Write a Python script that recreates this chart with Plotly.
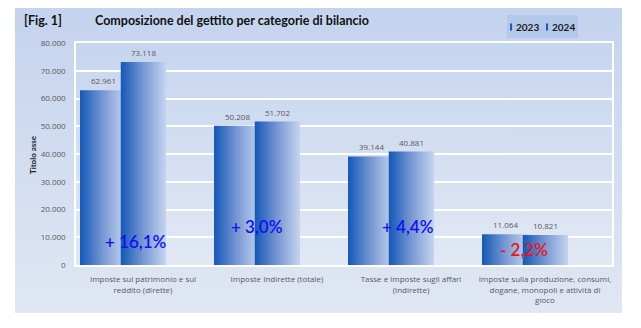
import base64
import plotly.graph_objects as go

# Data (milioni di euro)
categories = [
    "Imposte sul patrimonio e sul<br>reddito (dirette)",
    "Imposte Indirette (totale)",
    "Tasse e imposte sugli affari<br>(indirette)",
    "Imposte sulla produzione, consumi,<br>dogane, monopoli e attività di<br>gioco",
]
years = ["2023", "2024"]
values_2023 = [62961, 50208, 39144, 11064]
values_2024 = [73118, 51702, 40881, 10821]
y_ticks = [0, 10000, 20000, 30000, 40000, 50000, 60000, 70000, 80000]

FONT = "Open Sans"
TITLE_FONT = "Lato"
LABEL_GREY = "#595959"

# bar placement within each category slot (Excel-style overlapping clustered bars)
BAR_SLOTS = {"2023": (-0.470, -0.127), "2024": (-0.166, 0.172)}
BAR_SCALE = [[0, "#1258b8"], [0.5, "#7898d2"], [1, "#c6d4ef"]]

# percentage-change label positions (x in category units, y in axis units)
pct_x = [-0.05, 0.85, 1.98, 2.84]
pct_y = [8300, 13700, 13700, 5600]


def it_num(v):
    return f"{v:,}".replace(",", ".")


def svg_gradient(top, bottom):
    svg = (
        '<svg xmlns="http://www.w3.org/2000/svg" width="100" height="100" preserveAspectRatio="none">'
        '<defs><linearGradient id="g" x1="0" y1="0" x2="0" y2="1">'
        f'<stop offset="0" stop-color="{top}"/><stop offset="1" stop-color="{bottom}"/>'
        '</linearGradient></defs><rect width="100" height="100" fill="url(#g)"/></svg>'
    )
    return "data:image/svg+xml;base64," + base64.b64encode(svg.encode()).decode()


fig = go.Figure()
annotations = []

series = {"2023": values_2023, "2024": values_2024}
for year in years:
    lo, hi = BAR_SLOTS[year]
    for i, v in enumerate(series[year]):
        x0, x1 = i + lo, i + hi
        fig.add_trace(go.Scatter(
            x=[x0, x1, x1, x0, x0], y=[0, 0, v, v, 0],
            mode="lines", fill="toself", line=dict(width=0),
            fillgradient=dict(type="horizontal", colorscale=BAR_SCALE),
            name=year, legendgroup=year, showlegend=False,
            hoverinfo="skip",
        ))
        # value label above the bar
        annotations.append(dict(
            x=(x0 + x1) / 2, y=v, xref="x", yref="y", text=it_num(v),
            showarrow=False, yanchor="bottom", yshift=2,
            font=dict(family=FONT, size=8, color=LABEL_GREY),
        ))

# percentage change annotations
for a, b, px, py in zip(values_2023, values_2024, pct_x, pct_y):
    pct = (b - a) / a * 100
    sign = "+" if pct >= 0 else "-"
    txt = f"{sign} {abs(pct):.1f}%".replace(".", ",")
    color = "#1010f5" if pct >= 0 else "#f01515"
    annotations.append(dict(
        x=px, y=py, xref="x", yref="y", text=txt, showarrow=False,
        font=dict(family=TITLE_FONT, size=17, color=color, weight=600),
    ))

annotations += [
    dict(x=-0.1007, y=1.1036, xref="paper", yref="paper", xanchor="left", yanchor="middle",
         text="[Fig. 1]", showarrow=False,
         font=dict(family=TITLE_FONT, size=12.5, color="#111111", weight=700)),
    dict(x=0.0317, y=1.1036, xref="paper", yref="paper", xanchor="left", yanchor="middle",
         text="Composizione del gettito per categorie di bilancio", showarrow=False,
         font=dict(family=TITLE_FONT, size=12.5, color="#111111", weight=700)),
    dict(x=-0.0802, y=0.495, xref="paper", yref="paper", xanchor="center", yanchor="middle",
         text="Titolo asse", textangle=-90, showarrow=False,
         font=dict(family=TITLE_FONT, size=8, color="#222222", weight=700)),
]

# legend box with series keys
shapes = [
    dict(type="rect", xref="paper", yref="paper", x0=0.804, x1=0.9366, y0=1.0225, y1=1.126,
         fillcolor="#b4c8ea", line=dict(width=0), layer="above"),
]
legend_x = [0.8097, 0.8769]
for year, lx in zip(years, legend_x):
    shapes.append(dict(type="rect", xref="paper", yref="paper", x0=lx, x1=lx + 0.0037,
                       y0=1.056, y1=1.088, fillcolor="#1a5fba", line=dict(width=0), layer="above"))
    shapes.append(dict(type="rect", xref="paper", yref="paper", x0=lx + 0.0037, x1=lx + 0.0056,
                       y0=1.056, y1=1.088, fillcolor="#a9c0e6", line=dict(width=0), layer="above"))
    annotations.append(dict(x=lx + 0.0075, y=1.074, xref="paper", yref="paper",
                            xanchor="left", yanchor="middle", text=year, showarrow=False,
                            font=dict(family=TITLE_FONT, size=10, color="#1a1a1a", weight=700)))

images = [
    dict(source=svg_gradient("#c4d3ee", "#e0e7f3"), xref="paper", yref="paper",
         x=-0.1138, y=1.1577, sizex=1.1325, sizey=1.3737, sizing="stretch", layer="below"),
    dict(source=svg_gradient("#c6d5ef", "#e2e8f4"), xref="paper", yref="paper",
         x=0, y=1, sizex=1, sizey=1, sizing="stretch", layer="below"),
]

fig.update_layout(
    width=641, height=328,
    margin=dict(l=76, r=29, t=43, b=63),
    paper_bgcolor="white", plot_bgcolor="rgba(0,0,0,0)",
    separators=",.",
    font=dict(family=FONT, size=8, color=LABEL_GREY),
    showlegend=False,
    annotations=annotations,
    shapes=shapes,
    images=images,
    xaxis=dict(
        range=[-0.5, 3.5], tickmode="array", tickvals=list(range(len(categories))),
        ticktext=categories, showgrid=False, zeroline=False,
        showline=True, linecolor="white", linewidth=1.5, mirror=True,
        tickfont=dict(family=FONT, size=8, color=LABEL_GREY), ticks="",
        ticklabelstandoff=6,
    ),
    yaxis=dict(
        range=[0, 80000], tickmode="array", tickvals=y_ticks, tickformat=",d",
        showgrid=True, gridcolor="white", gridwidth=1.5, zeroline=False,
        showline=True, linecolor="white", linewidth=1.5, mirror=True,
        tickfont=dict(family=FONT, size=8, color=LABEL_GREY), ticks="",
        ticklabelstandoff=7,
    ),
)

fig.write_html("out.html")
